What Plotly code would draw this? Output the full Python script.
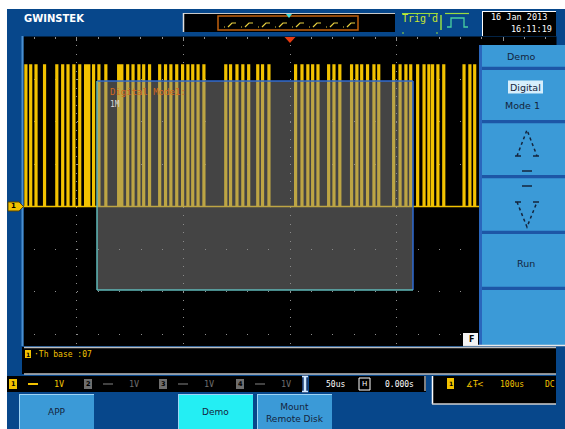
import plotly.graph_objects as go

W, H = 565, 429

# ---------------- data (read from the screen) ----------------
# rising-edge times of the captured digital pulses, in horizontal divisions from centre
pulse_start = [-4.97, -4.88, -4.78, -4.62, -4.39, -4.28, -4.18, -4.07, -3.96, -3.85, -3.79,
               -3.70, -3.60, -3.47, -3.23, -3.17, -3.06, -2.96, -2.85, -2.76, -2.65,
               -2.46, -2.35, -2.25, -2.14, -2.03, -1.93, -1.84, -1.74, -1.63,
               -1.22, -1.13, -1.01, -0.90, -0.79, -0.62, -0.53, -0.41,
               0.09, 0.21, 0.32, 0.41, 0.51, 0.71, 0.81, 0.92, 1.14, 1.24, 1.33, 1.44,
               1.56, 1.65, 1.93, 2.05, 2.16, 2.25, 2.38, 2.50, 2.59, 2.66, 2.76, 2.87,
               3.25, 3.36, 3.45]
pulse_width = 0.03          # div
logic_high = 3.33           # div (1 V/div -> 3.3 V)
logic_low = 0.0
record_span = [-5.0, 5.0]   # div

date_text = "16 Jan 2013"
time_text = "16:11:19"
channel_names = ["1", "2", "3", "4"]
channel_scales = ["1V", "1V", "1V", "1V"]
timebase_text = "50us"
hpos_text = "0.000s"
trigger_text = "100us"
coupling_text = "DC"
message_text = "·Th base :07"
menu_title = "Demo"
menu_items = ["Digital", "Mode 1", "Run"]
bottom_buttons = ["APP", "Demo", "Mount<br>Remote Disk"]

# ---------------- helpers (pixel -> paper) ----------------
def X(p):
    return p / W


def Y(p):
    return 1 - p / H


shapes = []
annots = []


def rect(x0, y0, x1, y1, fill, line=None, lw=0, layer="above"):
    shapes.append(dict(type="rect", xref="paper", yref="paper", x0=X(x0), x1=X(x1),
                       y0=Y(y1), y1=Y(y0), fillcolor=fill, layer=layer,
                       line=dict(color=line or "rgba(0,0,0,0)", width=lw)))


def seg(x0, y0, x1, y1, color, width=1, dash="solid", layer="above"):
    shapes.append(dict(type="line", xref="paper", yref="paper", x0=X(x0), x1=X(x1),
                       y0=Y(y0), y1=Y(y1), layer=layer,
                       line=dict(color=color, width=width, dash=dash)))


def poly(pts, fill=None, line=None, lw=1, closed=True, dash="solid"):
    d = "M " + " L ".join(f"{X(a):.5f},{Y(b):.5f}" for a, b in pts)
    if closed:
        d += " Z"
    shapes.append(dict(type="path", xref="paper", yref="paper", path=d, layer="above",
                       fillcolor=fill or "rgba(0,0,0,0)",
                       line=dict(color=line or "rgba(0,0,0,0)", width=lw, dash=dash)))


def text(x, y, s, color, size=9, anchor="center", family="DejaVu Sans", bg=None):
    annots.append(dict(xref="paper", yref="paper", x=X(x), y=Y(y), text=s, showarrow=False,
                       xanchor=anchor, yanchor="middle",
                       font=dict(color=color, size=size, family=family),
                       bgcolor=bg, borderpad=0))


FRAME = "#07478b"
BTN = "#3b9ad7"
SEP = "#1d56a6"
YEL = "#f2c200"
DARK = "#14243c"

# ---------------- background / frame ----------------
rect(7, 9, 565, 429, FRAME, layer="below")
rect(23.5, 36.5, 556.5, 346, "#000000", layer="below")
seg(22.5, 36, 22.5, 346, "#4a8fd0", 2, layer="below")

# ---------------- waveform trace ----------------
xs = [record_span[0]]
ys = [logic_low]
for s in pulse_start:
    xs += [s, s, s + pulse_width, s + pulse_width]
    ys += [logic_low, logic_high, logic_high, logic_low]
xs.append(record_span[1])
ys.append(logic_low)

fig = go.Figure()
fig.add_trace(go.Scatter(x=xs, y=ys, mode="lines", xaxis="x2", yaxis="y2",
                         line=dict(color=YEL, width=1.6), hoverinfo="skip"))

# ---------------- overlay window ----------------
rect(97, 81, 413, 290, "rgba(136,136,136,0.5)")
seg(97, 81, 413, 81, "#2f6ad0", 1.5)
seg(413, 81, 413, 290, "#2f6ad0", 1.5)
seg(97, 81, 97, 290, "#5fb8b8", 1.5)
seg(97, 290, 413, 290, "#5fb8b8", 1.5)
text(109, 92, "Digital Mode1:", "#d2691e", 9, "left", "DejaVu Sans Mono")
text(109, 104, "1M", "#d8d8d8", 8, "left", "DejaVu Sans Mono")

# ---------------- top bar ----------------
text(23, 18, "<b>GWINSTEK</b>", "#ffffff", 10, "left")
rect(183, 13, 395, 32, "#000000")
seg(183, 13.5, 395, 13.5, "#c8c8c8", 1)
seg(183.5, 13, 183.5, 32, "#e0e0e0", 1.5)
rect(218, 16, 358, 30, "rgba(0,0,0,0)", "#c0600e", 1.5)
for k in range(8):
    x0 = 224 + 17 * k
    poly([(x0, 27), (x0 + 1, 27)], line="#e8d040", lw=1.2, closed=False)
    poly([(x0 + 4, 27), (x0 + 8, 23), (x0 + 12, 23)], line="#e8d040", lw=1.2, closed=False)
poly([(286, 14), (292, 14), (289, 18)], fill="#40e0e0")
poly([(284.5, 37), (295.5, 37), (290, 43)], fill="#e63a10")

# trig'd
seg(402, 13.5, 438, 13.5, "#9adc40", 1.2)
seg(402, 33, 404, 33, "#9adc40", 1.2)
seg(436, 33, 438, 33, "#9adc40", 1.2)
text(420, 19, "Trig'd", "#c8e630", 10, "center", "DejaVu Sans Mono")
seg(441, 15, 441, 30, "#9adc40", 1.5)
poly([(447, 27), (451, 27), (451, 18), (464, 18), (464, 27), (468, 27)], line="#4ad0a0",
     lw=1.3, closed=False)
seg(445, 13.5, 469, 13.5, "#9adc40", 1.2)

# date box
rect(482, 11, 556, 36, "#000000")
seg(482, 11.5, 556, 11.5, "#ffffff", 1)
seg(482.5, 11, 482.5, 36, "#ffffff", 1)
text(519, 17, date_text, "#ffffff", 8.5, "center", "DejaVu Sans Mono")
text(553, 29, time_text, "#ffffff", 8.5, "right", "DejaVu Sans Mono")

# ---------------- side menu ----------------
rect(479, 45, 565, 345, BTN)
rect(479, 45, 482, 345, "#2a66bc")
for y0, y1 in [(66.7, 70), (120, 123.3), (175, 178.3), (230.7, 234), (286.7, 290)]:
    rect(482, y0, 565, y1, SEP)
text(521, 56, menu_title, DARK, 9.5)
rect(508, 80.5, 543, 93.5, "#d6eefc")
text(525.5, 87, menu_items[0], DARK, 9.5)
text(522, 106, menu_items[1], DARK, 9.5)
poly([(517, 156), (527, 130), (537, 156)], line=DARK, lw=1.5, closed=False, dash="dot")
seg(515, 156, 521, 156, DARK, 1.5)
seg(533, 156, 539, 156, DARK, 1.5)
seg(522, 171, 532, 171, DARK, 1.5)
seg(522, 186, 532, 186, DARK, 1.5)
poly([(517, 202), (527, 227), (537, 202)], line=DARK, lw=1.5, closed=False, dash="dot")
seg(515, 202, 521, 202, DARK, 1.5)
seg(533, 202, 539, 202, DARK, 1.5)
text(526, 263, menu_items[2], DARK, 9.5)
seg(463, 345.5, 565, 345.5, "#e8e8e8", 1.5)
rect(463, 333, 478, 345, "#f4f4f4")
text(471, 339, "<b>F</b>", "#000000", 8)

# ch1 ground marker
poly([(8, 202), (19, 202), (23.5, 206.5), (19, 211), (8, 211)], fill=YEL, line="#5a4400", lw=1)
text(13, 206.5, "<b>1</b>", "#000000", 7)

# ---------------- message bar ----------------
rect(22, 347, 556, 374, "#000000")
seg(24, 347.5, 556, 347.5, "#bdbdbd", 1.5)
seg(24, 374, 556, 374, "#bdbdbd", 1.5)
rect(25, 350, 31, 358, YEL)
text(28, 354, "<b>1</b>", "#000000", 6)
text(33, 354, message_text, YEL, 8, "left", "DejaVu Sans Mono")

# ---------------- channel / timebase / trigger bar ----------------
rect(7, 376, 302, 392, "#000000")
ch_x = [13, 88, 163, 240]
for i, (nm, sc) in enumerate(zip(channel_names, channel_scales)):
    col = YEL if i == 0 else "#6e6e6e"
    rect(ch_x[i] - 4, 379, ch_x[i] + 4, 389, col)
    text(ch_x[i], 384, "<b>" + nm + "</b>", "#000000", 6.5)
    seg(ch_x[i] + 15, 384, ch_x[i] + 25, 384, col, 2 if i == 0 else 1.2)
    text(ch_x[i] + 46, 384, sc, col, 8.5, "center", "DejaVu Sans Mono")
rect(302, 375, 308, 393, "#1d3c70")
seg(305, 376, 305, 392, "#cfe8ff", 2.5)
seg(302, 376.5, 308, 376.5, "#cfe8ff", 1.5)
seg(302, 391.5, 308, 391.5, "#cfe8ff", 1.5)
rect(309, 376, 426, 392, "#000000")
text(335, 384, timebase_text, "#ffffff", 8, "center", "DejaVu Sans Mono")
rect(359, 378, 370, 390, "rgba(0,0,0,0)", "#ffffff", 1)
text(364.5, 384, "H", "#ffffff", 7)
text(399, 384, hpos_text, "#ffffff", 8, "center", "DejaVu Sans Mono")
seg(425, 376, 425, 391, "#ffffff", 1)
rect(432, 376, 556, 404, "#000000")
seg(432.5, 376, 432.5, 404, "#ffffff", 1.5)
seg(432, 404, 556, 404, "#d0d0d0", 1.5)
rect(447, 378, 454, 389, YEL)
text(450.5, 383.5, "<b>1</b>", "#000000", 6)
text(469, 384, "∡", YEL, 8)
text(475, 384, "Ŧ", YEL, 8)
text(480, 384, "<", YEL, 8)
text(512, 384, trigger_text, YEL, 8, "center", "DejaVu Sans Mono")
text(550, 384, coupling_text, YEL, 8, "center", "DejaVu Sans Mono")

# ---------------- bottom soft keys ----------------
btn_geo = [(19, 94, BTN), (178, 253, "#24eef3"), (257, 332, BTN)]
for (x0, x1, col), lab in zip(btn_geo, bottom_buttons):
    rect(x0, 394, x1, 429, col)
    seg(x0 + 1, 394.5, x1, 394.5, "#9fd4f5", 1)
    seg(x0 + 0.5, 394, x0 + 0.5, 429, "#9fd4f5", 1)
    text((x0 + x1) / 2, 412 if "<br>" not in lab else 412.5, lab, DARK, 9)

fig.update_layout(
    width=W, height=H, margin=dict(l=0, r=0, t=0, b=0),
    paper_bgcolor="#ffffff", plot_bgcolor="rgba(0,0,0,0)", showlegend=False,
    xaxis2=dict(domain=[X(23.5), X(556.5)], range=record_span, anchor="y2",
                showticklabels=False, zeroline=False, showline=False,
                tick0=0, dtick=2, showgrid=True, gridcolor="#8f8f8f", gridwidth=1,
                griddash="1px,7.5px", ticks="inside", ticklen=4, tickcolor="#8f8f8f",
                side="top",
                minor=dict(tick0=0, dtick=0.4, ticks="inside", ticklen=2,
                           tickcolor="#8f8f8f", showgrid=False)),
    yaxis2=dict(domain=[1 - 346 / H, 1 - 36.5 / H], range=[-3.282, 4.0], anchor="x2",
                tick0=0, dtick=1, showgrid=True, gridcolor="#8f8f8f", gridwidth=1,
                griddash="0px,10.65px,1px,9.65px", zeroline=False,
                showticklabels=False, showline=False, ticks=""),
    shapes=shapes, annotations=annots,
)

fig.write_html("out.html", config={"displayModeBar": False},
               post_script="document.body.style.margin='0';")
